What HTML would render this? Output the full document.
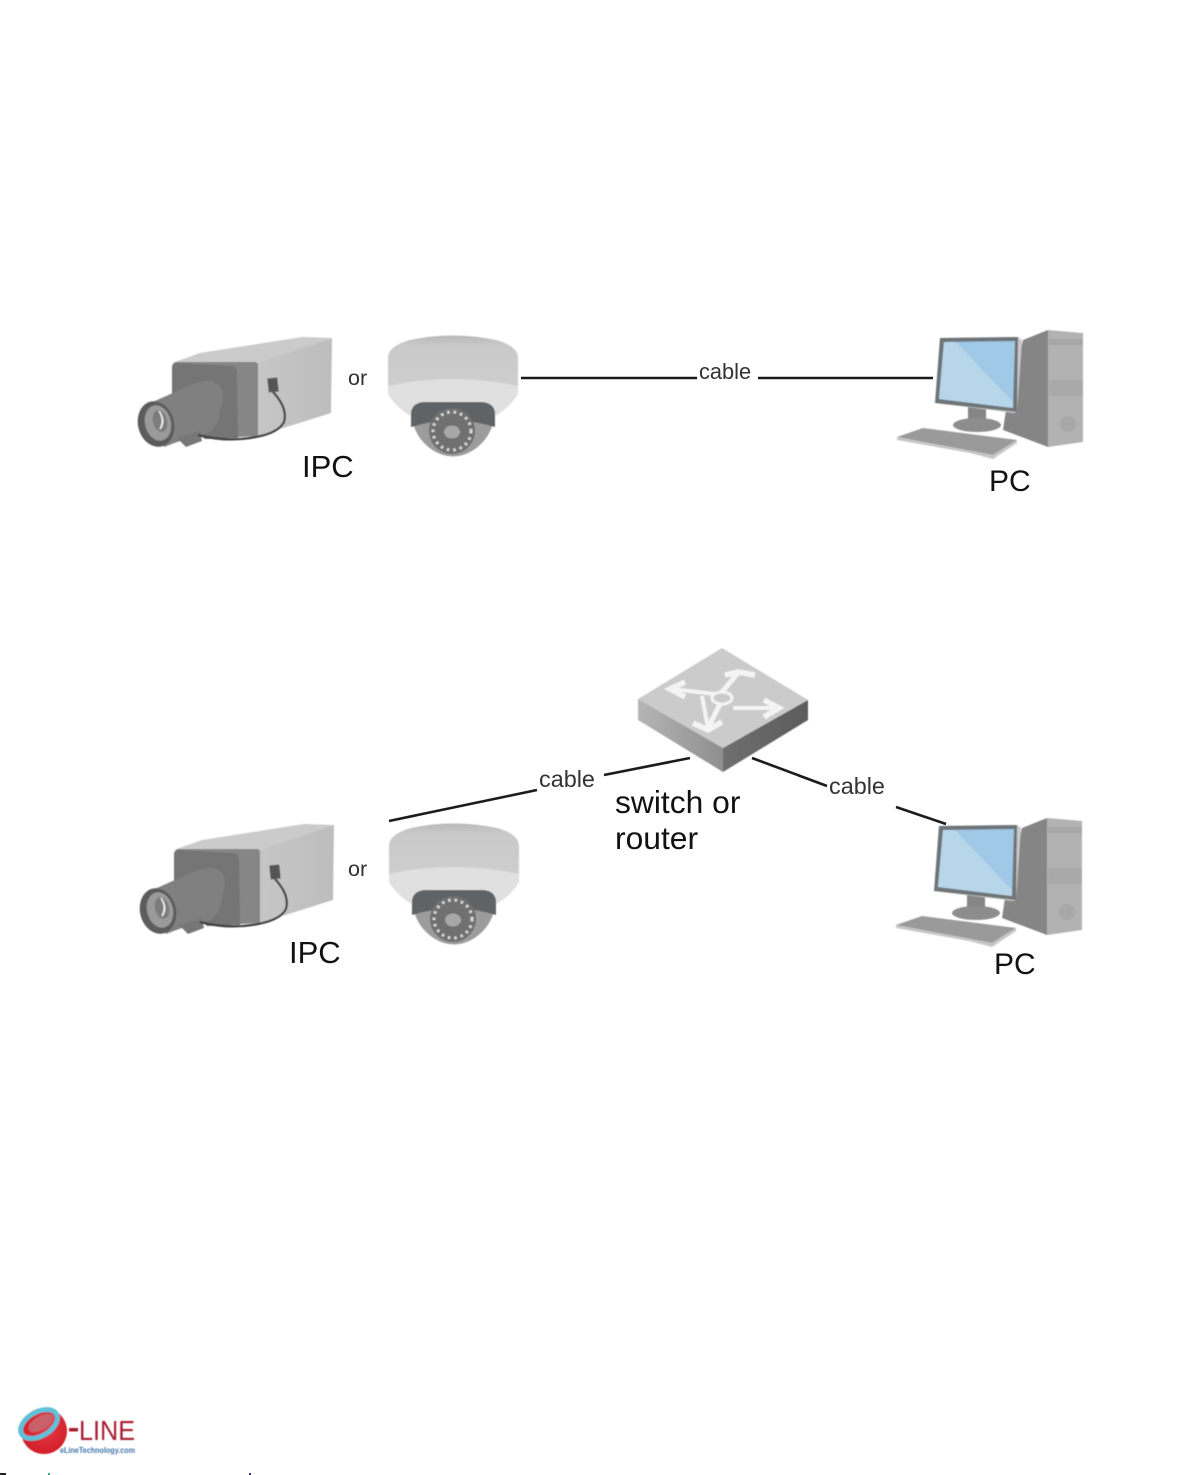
<!DOCTYPE html>
<html><head><meta charset="utf-8"><style>
html,body{margin:0;padding:0;background:#fff}
svg{display:block}
text{font-family:"Liberation Sans",sans-serif;fill:#111}
</style></head><body>
<svg width="1192" height="1475" viewBox="0 0 1192 1475" xmlns="http://www.w3.org/2000/svg">
<defs>
<filter id="b" x="-5%" y="-5%" width="110%" height="110%"><feGaussianBlur stdDeviation="0.6"/></filter>
<linearGradient id="side" x1="0" y1="0" x2="1" y2="0"><stop offset="0" stop-color="#c6c6c6"/><stop offset="1" stop-color="#bdbdbd"/></linearGradient>
<linearGradient id="cap" x1="0" y1="0" x2="0" y2="1"><stop offset="0" stop-color="#b8b8b8"/><stop offset="0.12" stop-color="#c9c9c9"/><stop offset="1" stop-color="#d2d2d2"/></linearGradient>
<linearGradient id="swl" x1="0" y1="0" x2="1" y2="0"><stop offset="0" stop-color="#b5b5b5"/><stop offset="1" stop-color="#8f8f8f"/></linearGradient>
<linearGradient id="swr" x1="0" y1="0" x2="1" y2="0"><stop offset="0" stop-color="#6f6f6f"/><stop offset="1" stop-color="#5c5c5c"/></linearGradient>
<radialGradient id="red" cx="0.55" cy="0.45" r="0.6"><stop offset="0" stop-color="#e23a44"/><stop offset="1" stop-color="#d01c26"/></radialGradient>

<g id="camera">
<polygon points="172,363 200,353 302,337 332,338 258,364" fill="#cbcbcb"/>
<polygon points="258,363 332,338 331,413 258,436" fill="url(#side)"/>
<path d="M172,368 Q172,362 178,362 L256,362 L258,364 L258,436 L205,439 L172,410Z" fill="#868686"/>
<path d="M172,368 Q172,362 178,363 L232,366 Q237,367 237,373 L238,438 L205,439 L172,410Z" fill="#747474"/>
<path d="M184,388 Q205,378 214,382 Q228,388 220,410 Q219,428 206,434 Q186,438 164,447 L146,405Z" fill="#808080"/>
<polygon points="177,438 200,431 202,441 186,447" fill="#777"/>
<ellipse cx="156" cy="424" rx="18" ry="23" transform="rotate(-14 156 424)" fill="#5c5c5c"/>
<ellipse cx="158" cy="423" rx="13" ry="18" transform="rotate(-14 158 423)" fill="#9a9a9a"/>
<ellipse cx="160" cy="421" rx="7" ry="11" transform="rotate(-14 160 421)" fill="#7b7b7b"/>
<path d="M159,411 Q165,420 160,429 Q166,421 159,411Z" fill="#eee" stroke="#eee" stroke-width="1.5"/>
<rect x="268" y="378" width="10" height="14" fill="#555" transform="rotate(-6 273 385)"/>
<path d="M273,392 Q288,408 284,422 Q278,434 250,438 Q225,442 198,435" fill="none" stroke="#3f3f3f" stroke-width="2.2"/>
</g>

<g id="dome">
<path d="M388,358 Q388,346 410,340 Q452,331 496,340 Q518,346 518,358 L518,392 Q512,404 494,414 L412,414 Q394,404 388,392Z" fill="url(#cap)"/>
<path d="M388,386 Q452,372 518,386 L518,394 Q510,408 492,418 L414,418 Q396,408 388,394Z" fill="#e0e0e0"/>
<path d="M411,412 Q413,402 426,402 L480,402 Q493,402 495,412 Q493,438 472,451 Q453,462 434,451 Q413,438 411,412Z" fill="#9c9c9c"/>
<path d="M411,412 Q413,402 426,402 L480,402 Q493,402 495,412 L495,427 Q453,414 411,427Z" fill="#5f6466"/>
<circle cx="452" cy="431" r="23" fill="#6f6f6f"/>
<circle cx="452" cy="431" r="19" fill="none" stroke="#d8d8d8" stroke-width="3" stroke-dasharray="2.5 4"/>
<ellipse cx="452" cy="432" rx="8" ry="6.5" fill="#a8a8a8"/>
</g>

<g id="pc">
<polygon points="1023,340 1048,330 1048,447 1003,430 1006,410" fill="#858585"/>
<polygon points="1048,330 1083,333 1083,442 1048,447" fill="#b2b2b2"/>
<rect x="1049" y="339" width="34" height="6" fill="#a6a6a6"/>
<rect x="1049" y="380" width="34" height="16" fill="#a9a9a9"/>
<circle cx="1068" cy="424" r="8" fill="#a8a8a8"/>
<rect x="968" y="406" width="18" height="18" fill="#858585"/>
<ellipse cx="977" cy="425" rx="24" ry="7" fill="#8d8d8d"/>
<polygon points="940,338 1018,337 1022,340 1017,412 1014,413 935,403" fill="#c9c9c9"/>
<polygon points="940,338 1018,337 1017,412 935,403" fill="#6e7578"/>
<polygon points="944,342 1015,341 1013,408 939,399" fill="#a0c8e7"/>
<polygon points="944,342 956,342 1013,402 1013,408 939,399" fill="#b8d6ea"/>
<polygon points="897,437 923,428 1017,440 993,455" fill="#9a9a9a"/>
<polygon points="897,437 993,455 1017,440 1017,443 993,459 970,453 897,440" fill="#c6c6c6"/>
</g>
</defs>

<g filter="url(#b)">
<use href="#camera"/>
<use href="#dome"/>
<use href="#pc"/>
<use href="#camera" x="2" y="487"/>
<use href="#dome" x="1" y="488"/>
<use href="#pc" x="-1" y="488"/>

<polygon points="722,648 808,700 723,748 638,699" fill="#cbcbcb"/>
<polygon points="638,699 723,748 723,772 638,720" fill="url(#swl)"/>
<polygon points="723,748 808,700 808,720 723,772" fill="url(#swr)"/>
<g fill="none" stroke="#f4f4f4" stroke-width="5.5" stroke-linejoin="miter">
<path d="M685,682 L670,689 L685,697" />
<path d="M725,675 L738,672 L755,675" />
<path d="M764,700 L779,708 L764,717" />
<path d="M693,723 L708,730 L722,722" />
<path d="M672,689 L715,694" stroke-width="4"/>
<path d="M738,673 L722,692 M720,704 L708,728" stroke-width="5"/>
<path d="M733,708 L776,708" stroke-width="4"/>
<path d="M708,728 L702,696" stroke-width="4"/>
<ellipse cx="722" cy="698" rx="10" ry="6" stroke-width="3"/>
</g>
</g>

<g stroke="#1c1c1c" stroke-width="2.6" fill="none">
<line x1="521" y1="378" x2="697" y2="378"/>
<line x1="758" y1="378" x2="933" y2="378"/>
<line x1="389" y1="821" x2="537" y2="790"/>
<line x1="604" y1="775" x2="690" y2="758"/>
<line x1="752" y1="758" x2="827" y2="786"/>
<line x1="896" y1="807" x2="946" y2="824"/>
</g>

<text x="348" y="385" font-size="21.5" style="fill:#333">or</text>
<text x="699" y="379" font-size="21.8" style="fill:#333">cable</text>
<text x="302" y="477" font-size="31">IPC</text>
<text x="989" y="491" font-size="30">PC</text>
<text x="348" y="876" font-size="21.5" style="fill:#333">or</text>
<text x="539" y="787" font-size="23.4" style="fill:#333">cable</text>
<text x="829" y="794" font-size="23.4" style="fill:#333">cable</text>
<text x="615" y="813" font-size="31.8">switch or</text>
<text x="615" y="849" font-size="31.8">router</text>
<text x="289" y="963" font-size="31">IPC</text>
<text x="994" y="974" font-size="30">PC</text>

<g filter="url(#b)">
<circle cx="44" cy="1431" r="23" fill="url(#red)"/>
<ellipse cx="39" cy="1424" rx="20" ry="12" transform="rotate(-30 39 1424)" fill="none" stroke="#5fc0d8" stroke-width="5"/>
<ellipse cx="41" cy="1423" rx="14" ry="7" transform="rotate(-30 41 1423)" fill="#c9606a"/>
<rect x="69" y="1428" width="9" height="3.5" fill="#a81c30"/>
<text x="79" y="1440" font-size="28" textLength="56" lengthAdjust="spacingAndGlyphs" style="fill:#a81c30">LINE</text>
<text x="60" y="1453" font-size="8" font-weight="bold" textLength="75" lengthAdjust="spacingAndGlyphs" style="fill:#3f75a8">eLineTechnology.com</text>
</g>
<rect x="0" y="1473" width="6" height="2" fill="#222"/>
<rect x="48" y="1473" width="2" height="2" fill="#3a7"/>
<rect x="249" y="1473" width="2" height="2" fill="#33a"/>
</svg>
</body></html>
